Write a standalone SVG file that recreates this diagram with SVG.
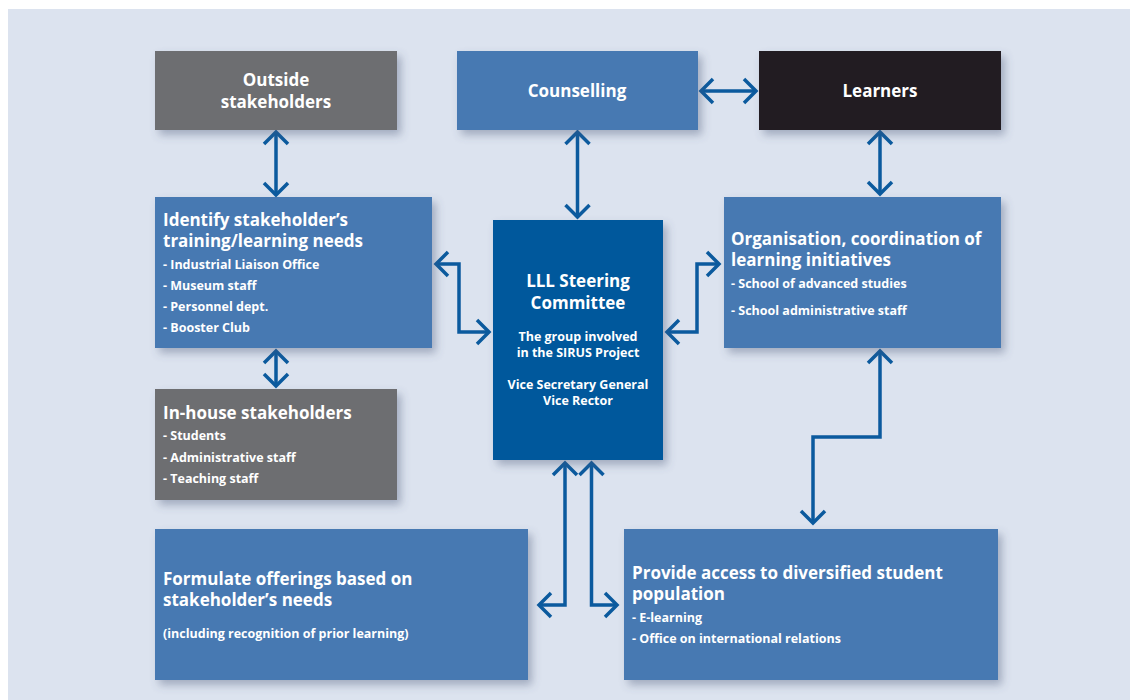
<svg xmlns="http://www.w3.org/2000/svg" width="1130" height="700" viewBox="0 0 1130 700">
<defs>
<filter id="sh" x="-10%" y="-10%" width="125%" height="130%">
<feDropShadow dx="4" dy="5" stdDeviation="4" flood-color="#4a5a78" flood-opacity="0.4"/>
</filter>
<marker id="ch" viewBox="-16 -16 20 32" markerWidth="20" markerHeight="32" refX="0" refY="0" orient="auto-start-reverse" markerUnits="userSpaceOnUse" overflow="visible">
<path d="M-12,-12 L0,0 L-12,12" fill="none" stroke="#0b5a9e" stroke-width="3.5"/>
</marker>
</defs>
<style>
.bg{fill:#dce3ef}
.blue{fill:#4679b2}
.grey{fill:#6d6e71}
.black{fill:#231f20}
.dark{fill:#00589c}
.box{filter:url(#sh)}
text{font-family:"Open Sans","Noto Sans","Liberation Sans",sans-serif;fill:#ffffff;font-weight:700}
.h{font-size:17px}
.s{font-size:12.5px}
.c{text-anchor:middle}
.con{fill:none;stroke:#0b5a9e;stroke-width:3.5;marker-start:url(#ch);marker-end:url(#ch)}
</style>
<rect x="0" y="0" width="1130" height="700" fill="#ffffff"/>
<rect class="bg" x="8" y="9" width="1122" height="691"/>

<g id="connectors">
<path class="con" d="M276,132 V195"/>
<path class="con" d="M276,351 V386"/>
<path class="con" d="M577.5,132 V217"/>
<path class="con" d="M701,91 H756"/>
<path class="con" d="M880,132 V194"/>
<path class="con" d="M436,264 H459 V332 H489"/>
<path class="con" d="M667,332 H697 V264 H719"/>
<path class="con" d="M565,463 V605 H539"/>
<path class="con" d="M591.5,463 V605 H617"/>
<path class="con" d="M880,351 V437 H813 V523"/>
</g>

<g id="outside">
<rect class="box grey" x="155" y="51" width="242" height="79"/>
<text class="h c" x="276" y="86">Outside</text>
<text class="h c" x="276" y="108">stakeholders</text>
</g>
<g id="counselling">
<rect class="box blue" x="457" y="51" width="241" height="79"/>
<text class="h c" x="577" y="97">Counselling</text>
</g>
<g id="learners">
<rect class="box black" x="759" y="51" width="242" height="79"/>
<text class="h c" x="880" y="97">Learners</text>
</g>
<g id="identify">
<rect class="box blue" x="155" y="197" width="277" height="151"/>
<text class="h" x="163" y="226">Identify stakeholder’s</text>
<text class="h" x="163" y="247">training/learning needs</text>
<text class="s" x="163" y="269">- Industrial Liaison Office</text>
<text class="s" x="163" y="290">- Museum staff</text>
<text class="s" x="163" y="311">- Personnel dept.</text>
<text class="s" x="163" y="332">- Booster Club</text>
</g>
<g id="steering">
<rect class="box dark" x="493" y="220" width="170" height="240"/>
<text class="h c" x="578" y="287">LLL Steering</text>
<text class="h c" x="578" y="309">Committee</text>
<text class="s c" x="578" y="341">The group involved</text>
<text class="s c" x="578" y="357">in the SIRUS Project</text>
<text class="s c" x="578" y="389">Vice Secretary General</text>
<text class="s c" x="578" y="405">Vice Rector</text>
</g>
<g id="organisation">
<rect class="box blue" x="724" y="197" width="277" height="151"/>
<text class="h" x="731" y="245">Organisation, coordination of</text>
<text class="h" x="731" y="266">learning initiatives</text>
<text class="s" x="731" y="288">- School of advanced studies</text>
<text class="s" x="731" y="315">- School administrative staff</text>
</g>
<g id="inhouse">
<rect class="box grey" x="155" y="389" width="242" height="111"/>
<text class="h" x="163" y="419">In-house stakeholders</text>
<text class="s" x="163" y="440">- Students</text>
<text class="s" x="163" y="462">- Administrative staff</text>
<text class="s" x="163" y="483">- Teaching staff</text>
</g>
<g id="formulate">
<rect class="box blue" x="155" y="529" width="373" height="151"/>
<text class="h" x="163" y="585">Formulate offerings based on</text>
<text class="h" x="163" y="606">stakeholder’s needs</text>
<text class="s" x="163" y="638">(including recognition of prior learning)</text>
</g>
<g id="provide">
<rect class="box blue" x="624" y="529" width="374" height="151"/>
<text class="h" x="632" y="579">Provide access to diversified student</text>
<text class="h" x="632" y="600">population</text>
<text class="s" x="632" y="622">- E-learning</text>
<text class="s" x="632" y="643">- Office on international relations</text>
</g>
</svg>
